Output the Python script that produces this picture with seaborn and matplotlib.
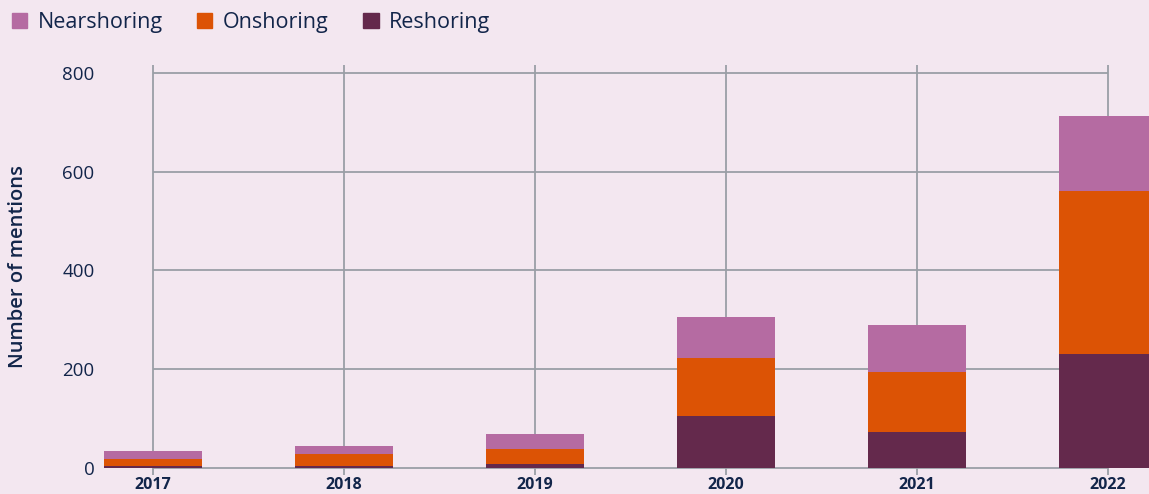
import matplotlib
matplotlib.use("Agg")
import matplotlib.pyplot as plt
import matplotlib.patches as mpatches
import seaborn as sns
import pandas as pd

years = ["2017", "2018", "2019", "2020", "2021", "2022"]
reshoring = [3, 4, 8, 105, 72, 231]
onshoring = [15, 24, 30, 117, 122, 330]
nearshoring = [16, 16, 30, 84, 95, 152]
y_ticks = [0, 200, 400, 600, 800]

BG = "#f3e7f0"
TXT = "#12254a"
GRID = "#9a9ea6"
C_NEAR = "#b56ba2"
C_ON = "#dc5305"
C_RE = "#64294c"

sns.set_theme(style="white")
plt.rcParams["font.family"] = ["Open Sans", "DejaVu Sans"]

df = pd.DataFrame({
    "year": years,
    "re": reshoring,
    "on": onshoring,
    "near": nearshoring,
})
df["lvl2"] = df["re"] + df["on"]
df["lvl3"] = df["lvl2"] + df["near"]

fig = plt.figure(figsize=(11.49, 4.94), dpi=100, facecolor=BG)
ax = fig.add_axes([100 / 1149, 19 / 494, 1 - 100 / 1149, (475 - 65) / 494])
ax.set_facecolor(BG)

bw = 0.515
sns.barplot(data=df, x="year", y="lvl3", color=C_NEAR, width=bw, saturation=1, ax=ax, zorder=3)
sns.barplot(data=df, x="year", y="lvl2", color=C_ON, width=bw, saturation=1, ax=ax, zorder=3)
sns.barplot(data=df, x="year", y="re", color=C_RE, width=bw, saturation=1, ax=ax, zorder=3)
for p in ax.patches:
    p.set_linewidth(0)

ax.set_xlim((100 - 153) / 191, (1149 - 153) / 191)
ax.set_ylim(-14.8, 816)

# gridlines: horizontal between first and last category, vertical full height
ax.hlines(y_ticks, 0, len(years) - 1, color=GRID, lw=1.3, zorder=1)
for i in range(len(years)):
    ax.axvline(i, color=GRID, lw=1.3, zorder=1)

ax.set_yticks(y_ticks)
ax.set_yticklabels([str(v) for v in y_ticks], fontsize=13.5, color=TXT)
ax.set_xticks(range(len(years)))
ax.set_xticklabels(years, fontsize=11.5, color=TXT, fontweight="bold")
ax.tick_params(axis="both", length=0)
ax.tick_params(axis="y", pad=4)
ax.tick_params(axis="x", pad=1.5)
for s in ax.spines.values():
    s.set_visible(False)

ax.set_xlabel("")
ax.set_ylabel("")
fig.text(18 / 1149, 1 - 266 / 494, "Number of mentions", rotation=90, ha="center", va="center",
         fontsize=14.5, color=TXT, fontweight="semibold")

handles = [mpatches.Patch(color=C_NEAR, label="Nearshoring"),
           mpatches.Patch(color=C_ON, label="Onshoring"),
           mpatches.Patch(color=C_RE, label="Reshoring")]
leg = fig.legend(handles=handles, loc="upper left", bbox_to_anchor=(12 / 1149, 1 - 12 / 494), ncol=3, frameon=False,
                 fontsize=15.5, handlelength=0.7, handleheight=0.7, handletextpad=0.5, columnspacing=1.6,
                 borderaxespad=0, borderpad=0)
for t in leg.get_texts():
    t.set_color(TXT)
    t.set_fontweight("medium")

fig.savefig("out.png", dpi=100, facecolor=BG)
